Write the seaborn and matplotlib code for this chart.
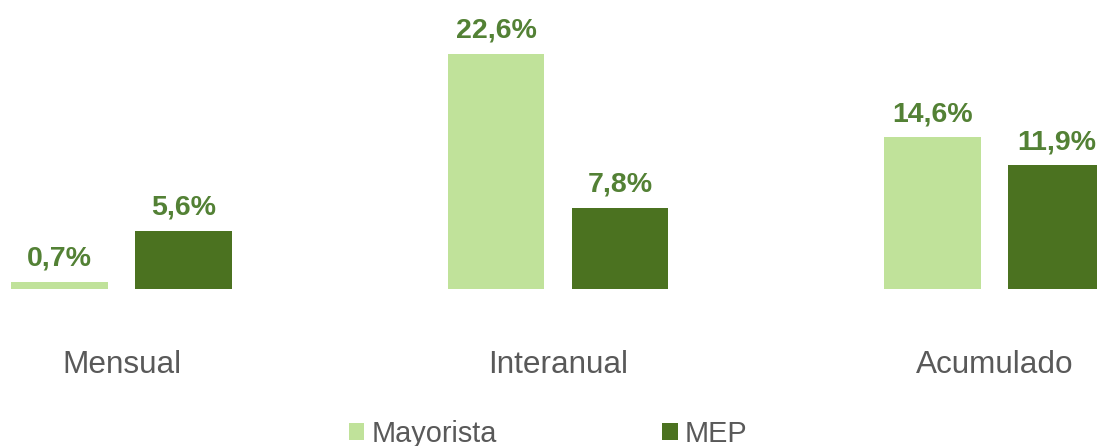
import matplotlib
matplotlib.use("Agg")
import matplotlib.pyplot as plt
import seaborn as sns
import pandas as pd

categories = ["Mensual", "Interanual", "Acumulado"]
series_names = ["Mayorista", "MEP"]
mayorista = [0.7, 22.6, 14.6]
mep = [5.6, 7.8, 11.9]
colors = ["#C0E29A", "#4B7220"]
label_color = "#538135"

df = pd.DataFrame({
    "cat": categories * 2,
    "serie": [series_names[0]] * 3 + [series_names[1]] * 3,
    "val": mayorista + mep,
})

sns.set_theme(style="white")
plt.rcParams["font.family"] = ["Liberation Sans", "DejaVu Sans"]

W, H = 1097, 446
fig = plt.figure(figsize=(W / 100, H / 100), dpi=100)
base = 289
ax = fig.add_axes([0, 1 - base / H, 1, base / H])
ax.set_facecolor("none")

sns.barplot(data=df, x="cat", y="val", hue="serie", order=categories,
            hue_order=series_names, palette=colors, width=0.568, gap=0.218,
            ax=ax, legend=False, saturation=1, linewidth=0)

ax.set_xlim((0 - 121.5) / 436.5, (W - 121.5) / 436.5)
ax.set_ylim(0, base / 10.4)
for s in ax.spines.values():
    s.set_visible(False)
ax.set_yticks([])
ax.set_xlabel("")
ax.set_ylabel("")
ax.tick_params(axis="x", length=0, pad=44, labelsize=22.7, labelcolor="#595959")

for cont in ax.containers:
    for bar in cont:
        h = bar.get_height()
        ax.annotate(f"{h:.1f}%".replace(".", ","),
                    (bar.get_x() + bar.get_width() / 2, h),
                    xytext=(0, 11.5), textcoords="offset points",
                    ha="center", va="baseline", fontsize=20.5,
                    fontweight="bold", color=label_color, annotation_clip=False)

from matplotlib.patches import Patch
handles = [Patch(facecolor=c, edgecolor="none") for c in colors]
fig.legend(handles, series_names, loc="center", ncol=2,
           bbox_to_anchor=(548 / W, 1 - 434 / H), frameon=False,
           fontsize=20.8, labelcolor="#595959", handlelength=0.55,
           handleheight=0.55, handletextpad=0.25, columnspacing=5.7,
           borderpad=0, borderaxespad=0)

fig.savefig("out.png", dpi=100)
